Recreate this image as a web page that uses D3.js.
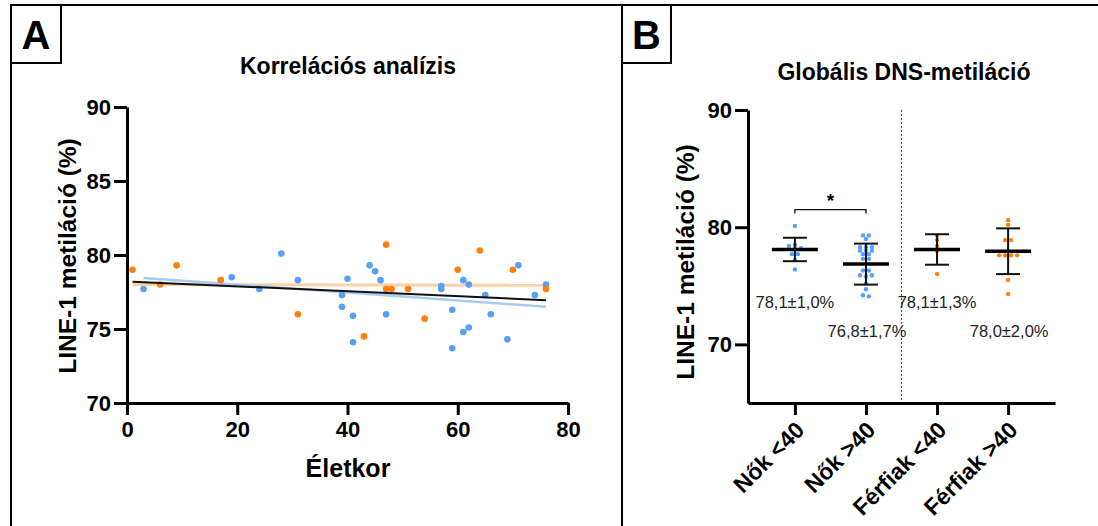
<!DOCTYPE html>
<html>
<head>
<meta charset="utf-8">
<script src="https://cdn.jsdelivr.net/npm/d3@7"></script>
<style>
    body { margin: 0; background: #fff; }
    svg { font-family: "Liberation Sans", Arial, sans-serif; }
    .axis path, .axis line { stroke: #000; stroke-width: 3; }
    .axis text { font-size: 22px; font-weight: bold; fill: #000; }
</style>
</head>
<body>
<div id="chart"></div>
<script>

// Panel A - age vs LINE-1 methylation
let womenAge = [3, 19, 24, 28, 31, 39, 39, 40, 41, 41, 44, 45, 46, 47, 57, 57, 59, 59, 61, 61, 62, 62, 65, 66, 69, 71, 74, 76];
let womenVal = [77.7, 78.5, 77.7, 80.1, 78.3, 77.3, 76.5, 78.4, 75.9, 74.1, 79.3, 78.9, 78.3, 76.0, 77.9, 77.7, 76.3, 73.7, 78.3, 74.8, 78.0, 75.1, 77.3, 76.0, 74.3, 79.3, 77.3, 78.0];
let menAge = [1, 6, 9, 17, 31, 43, 47, 47, 48, 51, 54, 60, 64, 70, 76];
let menVal = [79.0, 78.0, 79.3, 78.3, 76.0, 74.5, 80.7, 77.7, 77.7, 77.7, 75.7, 79.0, 80.3, 79.0, 77.7];

// regression lines (start/end age, start/end value)
let fitAll = [[1, 78.2], [76, 76.95]];
let fitWomen = [[3, 78.45], [76, 76.5]];
let fitMen = [[1, 78.0], [76, 77.95]];

let xTicksA = [0, 20, 40, 60, 80];
let yTicksA = [70, 75, 80, 85, 90];

// Panel B - groups
let groups = ["Nők <40", "Nők >40", "Férfiak <40", "Férfiak >40"];
let groupMeans = [78.1, 76.85, 78.1, 77.95];
let groupSD = [1.0, 1.75, 1.3, 1.95];
let groupLabels = ["78,1±1,0%", "76,8±1,7%", "78,1±1,3%", "78,0±2,0%"];
let womenYoung = [80.1, 78.5, 78.4, 78.2, 78.2, 77.7, 77.7, 77.2, 76.4];
let womenOld = [79.3, 79.3, 79.0, 78.3, 78.3, 78.3, 78.0, 78.0, 78.0, 77.7, 77.7, 77.3, 77.3, 76.3, 76.3, 75.9, 75.8, 75.9, 75.2, 74.7, 74.2, 74.1];
let menYoung = [79.3, 78.9, 78.4, 78.0, 76.0];
let menOld = [80.6, 80.2, 78.9, 78.9, 77.6, 77.6, 77.6, 77.6, 75.5, 74.3];
let yTicksB = [70, 80, 90];

let blue = "#56a0f7";
let orange = "#ff7f0a";

let svg = d3.select("#chart").append("svg")
    .attr("width", 1098)
    .attr("height", 526);

// frame
let frame = svg.append("g").attr("stroke", "#000").attr("stroke-width", 2).attr("fill", "none");
frame.append("path").attr("d", "M11,526 V5 H1098");
frame.append("line").attr("x1", 622).attr("x2", 622).attr("y1", 5).attr("y2", 526);
frame.append("rect").attr("x", 11).attr("y", 5).attr("width", 50).attr("height", 58);
frame.append("rect").attr("x", 622).attr("y", 5).attr("width", 49).attr("height", 58);

svg.append("text").attr("x", 36).attr("y", 49).attr("text-anchor", "middle")
    .style("font-size", "40px").style("font-weight", "bold").text("A");
svg.append("text").attr("x", 646.5).attr("y", 49).attr("text-anchor", "middle")
    .style("font-size", "40px").style("font-weight", "bold").text("B");

// ---------- Panel A ----------
let xA = d3.scaleLinear().domain([0, 80]).range([127, 568]);
let yA = d3.scaleLinear().domain([70, 90]).range([403, 107]);

svg.append("text").attr("x", 348).attr("y", 74).attr("text-anchor", "middle")
    .style("font-size", "23px").style("font-weight", "bold").text("Korrelációs analízis");

svg.append("g").attr("class", "axis")
    .attr("transform", "translate(0,403)")
    .call(d3.axisBottom(xA).tickValues(xTicksA).tickSize(12).tickSizeOuter(0).tickPadding(6));
svg.append("g").attr("class", "axis")
    .attr("transform", "translate(127,0)")
    .call(d3.axisLeft(yA).tickValues(yTicksA).tickSize(13).tickSizeOuter(0).tickPadding(3));

svg.append("text").attr("x", 348).attr("y", 477).attr("text-anchor", "middle")
    .style("font-size", "25px").style("font-weight", "bold").text("Életkor");
svg.append("text").attr("transform", "translate(76,256) rotate(-90)").attr("text-anchor", "middle")
    .style("font-size", "24.5px").style("font-weight", "bold").text("LINE-1 metiláció (%)");

let line = d3.line().x(d => xA(d[0])).y(d => yA(d[1]));
svg.append("path").datum(fitMen).attr("d", line)
    .attr("stroke", "#fbd2a6").attr("stroke-width", 3).attr("fill", "none");
svg.append("path").datum(fitWomen).attr("d", line)
    .attr("stroke", "#a6cbf7").attr("stroke-width", 2.5).attr("fill", "none");

svg.append("g").selectAll("circle")
    .data(d3.zip(womenAge, womenVal))
    .enter().append("circle")
    .attr("cx", d => xA(d[0])).attr("cy", d => yA(d[1])).attr("r", 3.3)
    .attr("fill", blue);
svg.append("g").selectAll("circle")
    .data(d3.zip(menAge, menVal))
    .enter().append("circle")
    .attr("cx", d => xA(d[0])).attr("cy", d => yA(d[1])).attr("r", 3.3)
    .attr("fill", orange);

svg.append("path").datum(fitAll).attr("d", line)
    .attr("stroke", "#111").attr("stroke-width", 2).attr("fill", "none");

// ---------- Panel B ----------
let xB = d3.scalePoint().domain(groups).range([748, 1055]).padding(0.66);
let yB = d3.scaleLinear().domain([65, 90]).range([403, 110]);

svg.append("text").attr("x", 904).attr("y", 80).attr("text-anchor", "middle")
    .style("font-size", "23px").style("font-weight", "bold").text("Globális DNS-metiláció");

// dotted divider between women and men
svg.append("line")
    .attr("x1", (xB(groups[1]) + xB(groups[2])) / 2).attr("x2", (xB(groups[1]) + xB(groups[2])) / 2)
    .attr("y1", yB(90)).attr("y2", yB(65))
    .attr("stroke", "#555").attr("stroke-width", 1.2).attr("stroke-dasharray", "2,2");

let xAxisB = svg.append("g").attr("class", "axis")
    .attr("transform", "translate(0,403)")
    .call(d3.axisBottom(xB).tickSize(12).tickSizeOuter(0));
xAxisB.selectAll("text")
    .style("font-size", "23px")
    .attr("text-anchor", "end")
    .attr("transform", "translate(-10,8) rotate(-45)")
    .attr("dx", "0").attr("dy", "0.6em");

svg.append("g").attr("class", "axis")
    .attr("transform", "translate(748,0)")
    .call(d3.axisLeft(yB).tickValues(yTicksB).tickSize(13).tickSizeOuter(0).tickPadding(3));

svg.append("text").attr("transform", "translate(694,262) rotate(-90)").attr("text-anchor", "middle")
    .style("font-size", "24.5px").style("font-weight", "bold").text("LINE-1 metiláció (%)");

// simple beeswarm: bin values into rows, spread each row around the center
function swarm(values, cx) {
    let rows = d3.group(values, v => Math.round(v / 0.3));
    let pts = [];
    rows.forEach(row => {
        row.forEach((v, i) => pts.push({x: cx + (i - (row.length - 1) / 2) * 6, y: yB(v)}));
    });
    return pts;
}

let groupValues = [womenYoung, womenOld, menYoung, menOld];
let groupColors = [blue, blue, orange, orange];

groupValues.forEach(function(vals, i) {
    let cx = xB(groups[i]);
    let g = svg.append("g");
    g.selectAll("circle")
        .data(swarm(vals, cx))
        .enter().append("circle")
        .attr("cx", d => d.x).attr("cy", d => d.y).attr("r", 2.2)
        .attr("fill", groupColors[i]);

    let top = yB(groupMeans[i] + groupSD[i]);
    let bot = yB(groupMeans[i] - groupSD[i]);
    g.append("line").attr("x1", cx).attr("x2", cx).attr("y1", top).attr("y2", bot)
        .attr("stroke", "#111").attr("stroke-width", 2);
    g.append("line").attr("x1", cx - 12).attr("x2", cx + 12).attr("y1", top).attr("y2", top)
        .attr("stroke", "#111").attr("stroke-width", 2);
    g.append("line").attr("x1", cx - 12).attr("x2", cx + 12).attr("y1", bot).attr("y2", bot)
        .attr("stroke", "#111").attr("stroke-width", 2);
    g.append("line").attr("x1", cx - 23).attr("x2", cx + 23)
        .attr("y1", yB(groupMeans[i])).attr("y2", yB(groupMeans[i]))
        .attr("stroke", "#000").attr("stroke-width", 3.5);

    // summary label, alternating rows
    g.append("text")
        .attr("x", cx + (i % 2 === 0 ? 0 : 1))
        .attr("y", i % 2 === 0 ? 308 : 337)
        .attr("text-anchor", "middle")
        .style("font-size", "16.5px").style("fill", "#222")
        .text(groupLabels[i]);
});

// significance bracket Nők <40 vs Nők >40
let bx0 = xB(groups[0]), bx1 = xB(groups[1]), by = yB(81.5);
svg.append("path")
    .attr("d", `M${bx0},${by + 4} V${by} H${bx1} V${by + 4}`)
    .attr("fill", "none").attr("stroke", "#111").attr("stroke-width", 1.3);
svg.append("text").attr("x", (bx0 + bx1) / 2).attr("y", by - 3).attr("text-anchor", "middle")
    .style("font-size", "19px").style("font-weight", "bold").text("*");

</script>
</body>
</html>
